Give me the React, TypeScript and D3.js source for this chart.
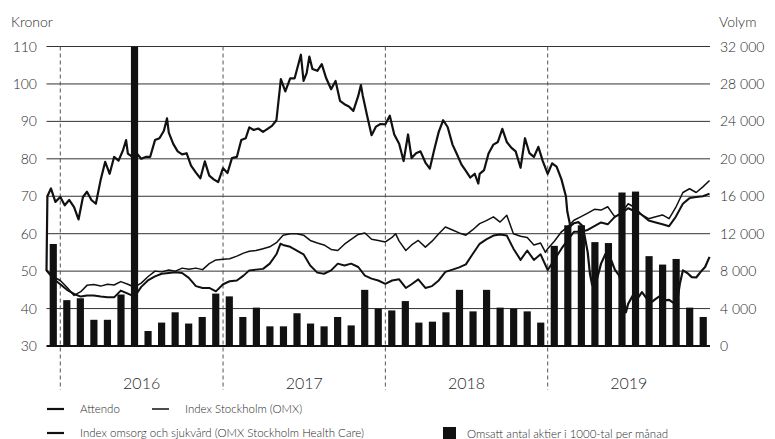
//this component renders the Attendo share price chart with monthly traded volume
import * as d3 from 'd3';
import React, { useEffect, useRef } from 'react';

// share price for Attendo, kronor
const attendo: [string, number][] = [
  ['2015-12-01', 50], ['2015-12-03', 70], ['2015-12-11', 72.1], ['2015-12-21', 68.5],
  ['2016-01-01', 69.8], ['2016-01-11', 67.6], ['2016-01-21', 69],
  ['2016-02-01', 67.1], ['2016-02-11', 63.8], ['2016-02-21', 69.8],
  ['2016-03-01', 71.2], ['2016-03-11', 69], ['2016-03-21', 68],
  ['2016-04-01', 74.5], ['2016-04-11', 79.2], ['2016-04-21', 76],
  ['2016-05-01', 80.5], ['2016-05-11', 79.5], ['2016-05-21', 82.3], ['2016-05-28', 85],
  ['2016-06-01', 81.4], ['2016-06-11', 80.5], ['2016-06-21', 81.4],
  ['2016-07-01', 80], ['2016-07-11', 80.5], ['2016-07-21', 80.5],
  ['2016-08-01', 85], ['2016-08-11', 85.5], ['2016-08-21', 87.5], ['2016-08-28', 90.8],
  ['2016-09-01', 87], ['2016-09-11', 84], ['2016-09-21', 82],
  ['2016-10-01', 81.2], ['2016-10-11', 81.5], ['2016-10-21', 78.2],
  ['2016-11-01', 76.3], ['2016-11-11', 74.8], ['2016-11-21', 79.3],
  ['2016-12-01', 75.5], ['2016-12-11', 74.5], ['2016-12-21', 73.8],
  ['2017-01-01', 77.5], ['2017-01-11', 76.2], ['2017-01-21', 80.2],
  ['2017-02-01', 80.5], ['2017-02-11', 85], ['2017-02-21', 85.5],
  ['2017-03-01', 88.4], ['2017-03-11', 87.7], ['2017-03-21', 88.1],
  ['2017-04-01', 87.2], ['2017-04-11', 88], ['2017-04-21', 88.8],
  ['2017-05-01', 90.3], ['2017-05-11', 101.3], ['2017-05-21', 98],
  ['2017-06-01', 101.5], ['2017-06-11', 101.5], ['2017-06-21', 106], ['2017-06-25', 107.8],
  ['2017-07-01', 100.8], ['2017-07-08', 102.9], ['2017-07-14', 107.3], ['2017-07-21', 104],
  ['2017-08-01', 103.5], ['2017-08-11', 105.3], ['2017-08-21', 101.5],
  ['2017-09-01', 98.6], ['2017-09-11', 100.8], ['2017-09-21', 95.5],
  ['2017-10-01', 94.6], ['2017-10-11', 94], ['2017-10-21', 92.8],
  ['2017-11-01', 96.8], ['2017-11-07', 99.7], ['2017-11-11', 97], ['2017-11-21', 91.5],
  ['2017-12-01', 86.3], ['2017-12-11', 88.6], ['2017-12-21', 89.3],
  ['2018-01-01', 89.2], ['2018-01-11', 91.5], ['2018-01-21', 86.5],
  ['2018-02-01', 84], ['2018-02-11', 79.4], ['2018-02-21', 86.5],
  ['2018-03-01', 80.2], ['2018-03-11', 81.5], ['2018-03-21', 82],
  ['2018-04-01', 79], ['2018-04-11', 77.4], ['2018-04-21', 82.5],
  ['2018-05-01', 87.2], ['2018-05-11', 90.3], ['2018-05-21', 88.5],
  ['2018-06-01', 83.8], ['2018-06-11', 81.2], ['2018-06-21', 78.5],
  ['2018-07-01', 76.8], ['2018-07-11', 75], ['2018-07-21', 76], ['2018-07-29', 73.4],
  ['2018-08-01', 76], ['2018-08-11', 77], ['2018-08-21', 81.4],
  ['2018-09-01', 83.8], ['2018-09-11', 84.5], ['2018-09-21', 88],
  ['2018-10-01', 84.5], ['2018-10-11', 83], ['2018-10-21', 82],
  ['2018-11-01', 77.6], ['2018-11-11', 85.5], ['2018-11-21', 81.5],
  ['2018-12-01', 80.5], ['2018-12-11', 83.2], ['2018-12-21', 79.4],
  ['2019-01-01', 76], ['2019-01-11', 78.8], ['2019-01-21', 77.9],
  ['2019-02-01', 74.5], ['2019-02-11', 70], ['2019-02-14', 66], ['2019-02-21', 62],
  ['2019-03-01', 62.8], ['2019-03-11', 63.1], ['2019-03-21', 62],
  ['2019-04-01', 55], ['2019-04-06', 49.3], ['2019-04-11', 46.3], ['2019-04-21', 47.5],
  ['2019-05-01', 52], ['2019-05-11', 54.6], ['2019-05-21', 53.8],
  ['2019-06-01', 50.4], ['2019-06-11', 48.8], ['2019-06-21', 43], ['2019-06-26', 39],
  ['2019-07-01', 41.3], ['2019-07-11', 43.4], ['2019-07-21', 42.5],
  ['2019-08-01', 44.4], ['2019-08-11', 42.8], ['2019-08-21', 41.6],
  ['2019-09-01', 42.6], ['2019-09-11', 43.4], ['2019-09-21', 42.2],
  ['2019-10-01', 42.3], ['2019-10-11', 41.5], ['2019-10-21', 43.3], ['2019-10-25', 46.5],
  ['2019-11-01', 50.2], ['2019-11-11', 49.5], ['2019-11-21', 48.4],
  ['2019-12-01', 48.3], ['2019-12-11', 49.8], ['2019-12-21', 51.1], ['2019-12-31', 53.8]
];

// OMX Stockholm index, rebased to kronor
const omxIndex: [string, number][] = [
  ['2015-12-01', 50.2], ['2015-12-16', 48.5],
  ['2016-01-01', 47.5], ['2016-01-16', 45.7], ['2016-02-01', 43.5], ['2016-02-16', 44.5],
  ['2016-03-01', 46.2], ['2016-03-16', 46.4], ['2016-04-01', 46], ['2016-04-16', 46.5],
  ['2016-05-01', 46.3], ['2016-05-16', 47.2], ['2016-06-01', 46.5], ['2016-06-16', 45.7],
  ['2016-07-01', 46.8], ['2016-07-16', 48.5], ['2016-08-01', 50], ['2016-08-16', 49.8],
  ['2016-09-01', 50.3], ['2016-09-16', 50], ['2016-10-01', 50.8], ['2016-10-16', 50.5],
  ['2016-11-01', 50.8], ['2016-11-16', 50.4], ['2016-12-01', 52], ['2016-12-16', 53],
  ['2017-01-01', 53.2], ['2017-01-16', 53.3], ['2017-02-01', 54], ['2017-02-16', 54.8],
  ['2017-03-01', 55.3], ['2017-03-16', 55.5], ['2017-04-01', 56], ['2017-04-16', 56.5],
  ['2017-05-01', 57.6], ['2017-05-16', 59.6], ['2017-06-01', 60], ['2017-06-16', 60],
  ['2017-07-01', 59.6], ['2017-07-16', 58.2], ['2017-08-01', 57.5], ['2017-08-16', 57],
  ['2017-09-01', 55.8], ['2017-09-16', 55.5], ['2017-10-01', 57.2], ['2017-10-16', 58.5],
  ['2017-11-01', 59.8], ['2017-11-16', 60.2], ['2017-12-01', 58.5], ['2017-12-16', 58.2],
  ['2018-01-01', 57.8], ['2018-01-16', 59], ['2018-01-24', 60], ['2018-02-01', 58],
  ['2018-02-16', 55.5], ['2018-03-01', 57], ['2018-03-16', 58.2], ['2018-04-01', 56.4],
  ['2018-04-16', 58], ['2018-05-01', 60], ['2018-05-16', 61.8], ['2018-06-01', 61],
  ['2018-06-16', 60.2], ['2018-07-01', 59.6], ['2018-07-16', 61], ['2018-08-01', 62.7],
  ['2018-08-16', 63.5], ['2018-09-01', 64.5], ['2018-09-16', 63.1], ['2018-10-01', 64.9],
  ['2018-10-16', 60], ['2018-11-01', 59.3], ['2018-11-16', 59], ['2018-12-01', 57],
  ['2018-12-16', 57.5], ['2018-12-27', 55], ['2019-01-01', 56], ['2019-01-16', 58],
  ['2019-02-01', 60.5], ['2019-02-16', 62], ['2019-03-01', 63.6], ['2019-03-16', 64.5],
  ['2019-04-01', 65.5], ['2019-04-16', 66.5], ['2019-05-01', 66.3], ['2019-05-16', 67.2],
  ['2019-06-01', 64.5], ['2019-06-16', 65.5], ['2019-07-01', 68], ['2019-07-16', 67],
  ['2019-08-01', 65], ['2019-08-16', 64], ['2019-09-01', 64.5], ['2019-09-16', 65],
  ['2019-10-01', 64], ['2019-10-16', 67], ['2019-11-01', 71], ['2019-11-16', 72],
  ['2019-12-01', 71], ['2019-12-16', 72.5], ['2019-12-31', 74.2]
];

// OMX Stockholm Health Care index, rebased to kronor
const healthCareIndex: [string, number][] = [
  ['2015-12-01', 50.2], ['2015-12-16', 48],
  ['2016-01-01', 46.5], ['2016-01-16', 45], ['2016-02-01', 43.9], ['2016-02-16', 43.2],
  ['2016-03-01', 43.5], ['2016-03-16', 43.5], ['2016-04-01', 43.2], ['2016-04-16', 43],
  ['2016-05-01', 43], ['2016-05-16', 44.8], ['2016-06-01', 44], ['2016-06-16', 43.2],
  ['2016-07-01', 45.8], ['2016-07-16', 47.5], ['2016-08-01', 48.6], ['2016-08-16', 49.3],
  ['2016-09-01', 49.5], ['2016-09-16', 49.7], ['2016-10-01', 49.5], ['2016-10-16', 48.2],
  ['2016-11-01', 46], ['2016-11-16', 45.5], ['2016-12-01', 45.5], ['2016-12-16', 44.6],
  ['2017-01-01', 46.5], ['2017-01-16', 47.3], ['2017-02-01', 47.5], ['2017-02-16', 48.8],
  ['2017-03-01', 50.2], ['2017-03-16', 50.4], ['2017-04-01', 50.6], ['2017-04-16', 52],
  ['2017-05-01', 54.5], ['2017-05-10', 57.3], ['2017-05-16', 57], ['2017-06-01', 56.5],
  ['2017-06-16', 55.5], ['2017-07-01', 54.5], ['2017-07-16', 51.5], ['2017-08-01', 49.6],
  ['2017-08-16', 49.3], ['2017-09-01', 50.2], ['2017-09-16', 52], ['2017-10-01', 51.5],
  ['2017-10-16', 52], ['2017-11-01', 51.1], ['2017-11-16', 48.8], ['2017-12-01', 48],
  ['2017-12-16', 47.5], ['2018-01-01', 46.6], ['2018-01-16', 47.5], ['2018-02-01', 47.8],
  ['2018-02-16', 45.5], ['2018-03-01', 46.5], ['2018-03-16', 47.8], ['2018-04-01', 45.5],
  ['2018-04-16', 46], ['2018-05-01', 47.5], ['2018-05-16', 49.8], ['2018-06-01', 50.4],
  ['2018-06-16', 51], ['2018-07-01', 51.8], ['2018-07-16', 54.5], ['2018-08-01', 57.3],
  ['2018-08-16', 58.5], ['2018-09-01', 59.5], ['2018-09-16', 59.8], ['2018-10-01', 59.5],
  ['2018-10-16', 56], ['2018-11-01', 53], ['2018-11-16', 55.5], ['2018-12-01', 53],
  ['2018-12-16', 54.5], ['2019-01-01', 50.3], ['2019-01-16', 53], ['2019-02-01', 56],
  ['2019-02-16', 58.5], ['2019-03-01', 60.5], ['2019-03-16', 60.5], ['2019-04-01', 61],
  ['2019-04-16', 62], ['2019-05-01', 63], ['2019-05-16', 62.5], ['2019-06-01', 64.5],
  ['2019-06-16', 65.5], ['2019-07-01', 66.8], ['2019-07-16', 66], ['2019-08-01', 65],
  ['2019-08-16', 63.5], ['2019-09-01', 63], ['2019-09-16', 62.5], ['2019-10-01', 62],
  ['2019-10-16', 64.5], ['2019-11-01', 68], ['2019-11-16', 69.5], ['2019-12-01', 69.8],
  ['2019-12-16', 70], ['2019-12-31', 70.7]
];

// traded shares per month, in thousands
const volumeMonths = [
  '2015-12',
  '2016-01', '2016-02', '2016-03', '2016-04', '2016-05', '2016-06',
  '2016-07', '2016-08', '2016-09', '2016-10', '2016-11', '2016-12',
  '2017-01', '2017-02', '2017-03', '2017-04', '2017-05', '2017-06',
  '2017-07', '2017-08', '2017-09', '2017-10', '2017-11', '2017-12',
  '2018-01', '2018-02', '2018-03', '2018-04', '2018-05', '2018-06',
  '2018-07', '2018-08', '2018-09', '2018-10', '2018-11', '2018-12',
  '2019-01', '2019-02', '2019-03', '2019-04', '2019-05', '2019-06',
  '2019-07', '2019-08', '2019-09', '2019-10', '2019-11', '2019-12'
];
const volumeValues = [
  10900,
  4900, 5100, 2800, 2800, 5500, 32000, 1600, 2500, 3600, 2400, 3100, 5600,
  5300, 3100, 4100, 2100, 2100, 3500, 2400, 2100, 3100, 2200, 6000, 4000,
  3800, 4800, 2500, 2600, 3600, 6000, 3700, 6000, 4100, 4000, 3700, 2500,
  10700, 12900, 12900, 11100, 11000, 16400, 16500, 9600, 8700, 9300, 4100, 3100
];

const priceTicks = [30, 40, 50, 60, 70, 80, 90, 100, 110];
const volumeTicks = [0, 4000, 8000, 12000, 16000, 20000, 24000, 28000, 32000];
const years = [2016, 2017, 2018, 2019];

const FONT = 'Lato, "Open Sans", sans-serif';
const INK = '#2a2a2a';

const App = () => {
  const svgRef = useRef<SVGSVGElement>(null);

  useEffect(() => {
    const svg = d3.select(svgRef.current);
    svg.selectAll('*').remove();

    const left = 46.5;
    const right = 710;
    const top = 46.5;
    const bottom = 346;

    const parse = d3.timeParse('%Y-%m-%d');
    const x = d3
      .scaleTime()
      .domain([parse('2015-12-01'), parse('2020-01-01')] as Date[])
      .range([left, right]);
    const y = d3.scaleLinear().domain([30, 110]).range([bottom, top]);
    const yVol = d3.scaleLinear().domain([0, 32000]).range([bottom, top]);

    //one band per month for the volume bars
    const band = d3
      .scaleBand()
      .domain(volumeMonths)
      .range([left, right])
      .paddingInner(0.47)
      .paddingOuter(0.235);

    //horizontal gridlines
    svg
      .append('g')
      .selectAll('line')
      .data(priceTicks)
      .enter()
      .append('line')
      .attr('x1', left)
      .attr('x2', right)
      .attr('y1', (d) => y(d))
      .attr('y2', (d) => y(d))
      .attr('stroke', (d) => (d === 30 ? '#111' : '#333'))
      .attr('stroke-width', (d) => (d === 30 ? 2 : 1));

    //dashed lines at each new year
    svg
      .append('g')
      .selectAll('line')
      .data(years)
      .enter()
      .append('line')
      .attr('x1', (d) => x(new Date(d, 0, 1)))
      .attr('x2', (d) => x(new Date(d, 0, 1)))
      .attr('y1', top)
      .attr('y2', 390)
      .attr('stroke', '#555')
      .attr('stroke-width', 1)
      .attr('stroke-dasharray', '4,3');

    //volume bars
    svg
      .append('g')
      .selectAll('rect')
      .data(volumeValues)
      .enter()
      .append('rect')
      .attr('x', (d, i) => band(volumeMonths[i]) as number)
      .attr('width', band.bandwidth())
      .attr('y', (d) => yVol(d))
      .attr('height', (d) => bottom - yVol(d))
      .attr('fill', '#111');

    //price lines
    const line = d3
      .line<[string, number]>()
      .x((d) => x(parse(d[0]) as Date))
      .y((d) => y(d[1]));

    const series: [[string, number][], number][] = [
      [omxIndex, 1.5],
      [healthCareIndex, 2],
      [attendo, 2.2]
    ];
    series.forEach(([data, width]) => {
      svg
        .append('path')
        .attr('d', line(data))
        .attr('fill', 'none')
        .attr('stroke', '#111')
        .attr('stroke-width', width)
        .attr('stroke-linejoin', 'round');
    });

    const label = (sel: any, size: number) =>
      sel
        .attr('font-family', FONT)
        .attr('font-weight', 300)
        .attr('font-size', size)
        .attr('fill', INK);

    //left axis labels
    svg
      .append('g')
      .selectAll('text')
      .data(priceTicks)
      .enter()
      .append('text')
      .attr('x', 37)
      .attr('y', (d) => y(d))
      .attr('dy', '0.36em')
      .attr('text-anchor', 'end')
      .call(label, 14)
      .text((d) => d);

    //right axis labels with space as thousands separator
    const fmt = (d: number) => d3.format(',')(d).replace(/,/g, ' ');
    svg
      .append('g')
      .selectAll('text')
      .data(volumeTicks)
      .enter()
      .append('text')
      .attr('x', 720)
      .attr('y', (d) => yVol(d))
      .attr('dy', '0.36em')
      .attr('text-anchor', 'start')
      .call(label, 14)
      .text((d) => fmt(d));

    //axis titles
    svg.append('text').attr('x', 11).attr('y', 27).call(label, 14).text('Kronor');
    svg.append('text').attr('x', 719).attr('y', 27).call(label, 14).text('Volym');

    //year labels centred in each year
    svg
      .append('g')
      .selectAll('text')
      .data(years)
      .enter()
      .append('text')
      .attr('x', (d) => (x(new Date(d, 0, 1)) + x(new Date(d + 1, 0, 1))) / 2)
      .attr('y', 389)
      .attr('text-anchor', 'middle')
      .call(label, 16)
      .text((d) => d);

    //legend
    const legend = svg.append('g');
    const legendLines: [number, number, number, string][] = [
      [47, 409, 2.2, 'Attendo'],
      [152, 409, 1.5, 'Index Stockholm (OMX)'],
      [47, 433, 2.2, 'Index omsorg och sjukvård (OMX Stockholm Health Care)']
    ];
    legendLines.forEach(([lx, ly, w, text]) => {
      legend
        .append('line')
        .attr('x1', lx)
        .attr('x2', lx + 17)
        .attr('y1', ly)
        .attr('y2', ly)
        .attr('stroke', '#111')
        .attr('stroke-width', w);
      legend
        .append('text')
        .attr('x', lx + 33)
        .attr('y', ly)
        .attr('dy', '0.35em')
        .call(label, 11.5)
        .text(text);
    });
    legend
      .append('rect')
      .attr('x', 443)
      .attr('y', 427)
      .attr('width', 13)
      .attr('height', 13)
      .attr('fill', '#111');
    legend
      .append('text')
      .attr('x', 467)
      .attr('y', 433.5)
      .attr('dy', '0.35em')
      .call(label, 11.5)
      .text('Omsatt antal aktier i 1000-tal per månad');
  }, []);

  return (
    <svg
      ref={svgRef}
      width={775}
      height={439}
      style={{ position: 'absolute', left: 0, top: 0, background: '#fff' }}
    ></svg>
  );
};

export default App;
